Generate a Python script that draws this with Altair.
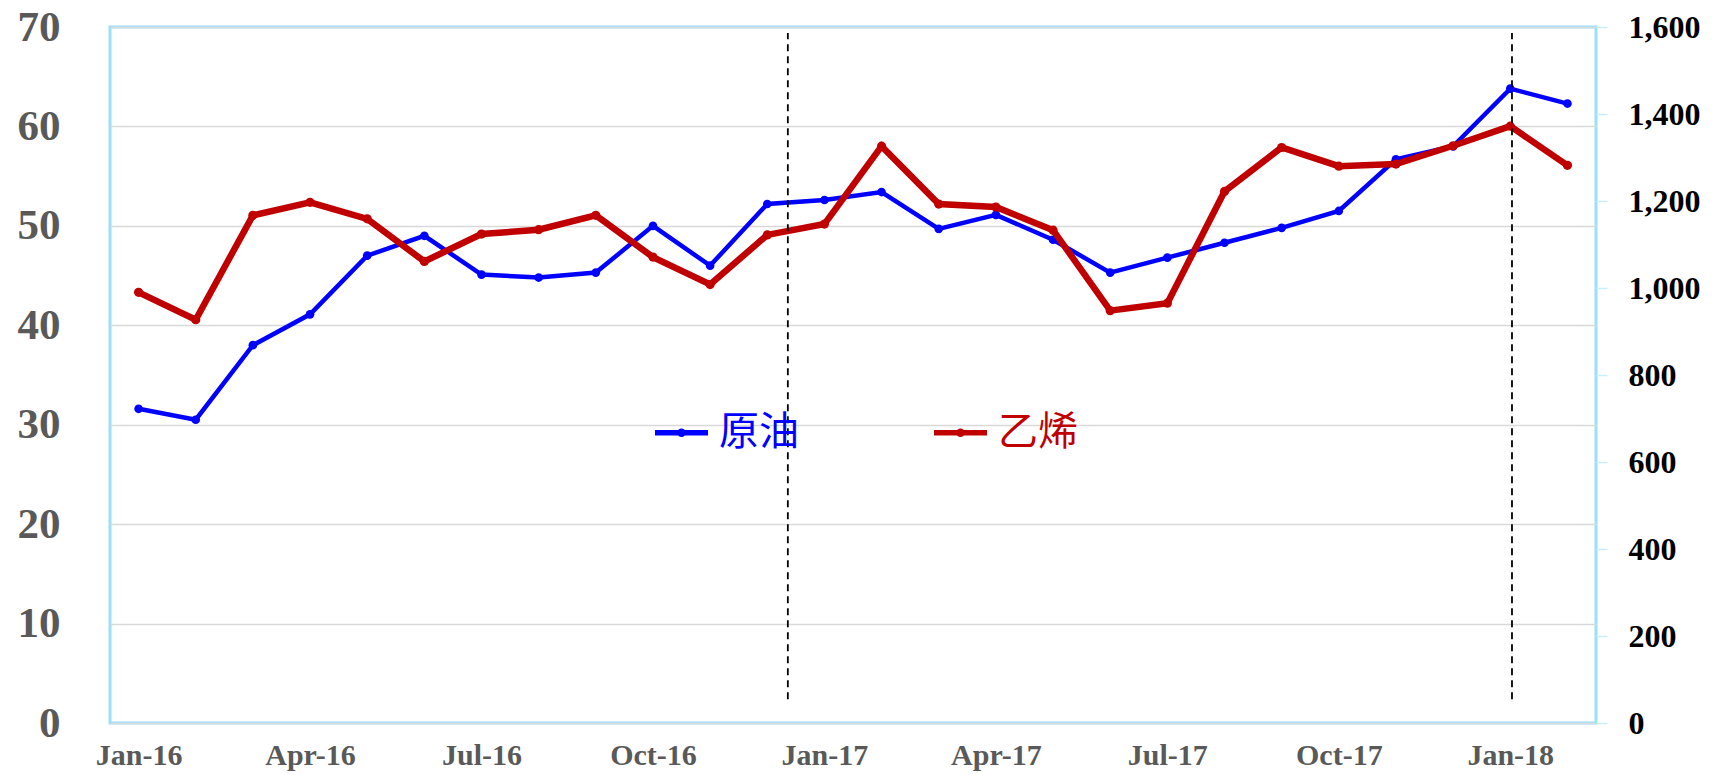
import altair as alt
import pandas as pd

months = ["Jan-16", "Feb-16", "Mar-16", "Apr-16", "May-16", "Jun-16", "Jul-16", "Aug-16",
          "Sep-16", "Oct-16", "Nov-16", "Dec-16", "Jan-17", "Feb-17", "Mar-17", "Apr-17",
          "May-17", "Jun-17", "Jul-17", "Aug-17", "Sep-17", "Oct-17", "Nov-17", "Dec-17",
          "Jan-18", "Feb-18"]
crude = [31.6, 30.5, 38.0, 41.1, 47.0, 49.0, 45.1, 44.8, 45.3, 50.0, 46.0, 52.2, 52.6,
         53.4, 49.7, 51.1, 48.6, 45.3, 46.8, 48.3, 49.8, 51.5, 56.7, 58.0, 63.8, 62.3]
ethylene = [990, 927, 1167, 1197, 1159, 1061, 1124, 1134, 1167, 1071, 1008, 1122, 1147,
            1326, 1193, 1186, 1133, 948, 965, 1222, 1323, 1280, 1285, 1327, 1372, 1282]
series_names = ["原油", "乙烯"]
series_colors = ["#0000FF", "#C00000"]
tick_labels = ["Jan-16", "Apr-16", "Jul-16", "Oct-16", "Jan-17", "Apr-17", "Jul-17", "Oct-17", "Jan-18"]
tick_idx = [months.index(m) for m in tick_labels]
marker_pos = [11.36, 24.03]
marker_y = [2.4, 69.4]

rows = []
for i, m in enumerate(months):
    rows.append({"i": i, "month": m, "series": series_names[0], "value": crude[i]})
    rows.append({"i": i, "month": m, "series": series_names[1], "value": ethylene[i]})
df = pd.DataFrame(rows)
rules_df = pd.DataFrame({"i": marker_pos, "y": [marker_y[0]] * 2, "y2": [marker_y[1]] * 2})

label_expr = "[" + ",".join("'" + m + "'" for m in months) + "][round(datum.value)]"
xscale = alt.Scale(domain=[-0.5, len(months) - 0.5], nice=False, zero=False)
xaxis = alt.Axis(values=tick_idx, labelExpr=label_expr, ticks=False, domain=False, grid=False,
                 labelFont="Liberation Serif", labelFontWeight="bold", labelFontSize=30,
                 labelColor="#595959", labelPadding=17, title=None)
x = alt.X("i:Q", scale=xscale, axis=xaxis)

color = alt.Color("series:N",
                  scale=alt.Scale(domain=series_names, range=series_colors),
                  legend=alt.Legend(orient="none", legendX=542, legendY=376, direction="horizontal",
                                    title=None, padding=0, columnPadding=124,
                                    symbolType="M-1,0L1,0M-0.06,0A0.06,0.06,0,1,1,0.06,0A0.06,0.06,0,1,1,-0.06,0",
                                    symbolSize=2809, symbolStrokeWidth=5.5,
                                    labelFont="Noto Sans CJK SC", labelFontSize=40, labelOffset=8,
                                    labelLimit=300,
                                    labelColor={"expr": "datum.value === '原油' ? '#0000FF' : '#C00000'"}))

base = alt.Chart(df)

blue = base.transform_filter(alt.datum.series == series_names[0]).mark_line(
    strokeWidth=4.5, point=alt.OverlayMarkDef(size=75, filled=True, color=series_colors[0])
).encode(
    x=x,
    y=alt.Y("value:Q", scale=alt.Scale(domain=[0, 70], nice=False),
            axis=alt.Axis(orient="left", values=list(range(0, 71, 10)), ticks=False, domain=False,
                          grid=True, gridColor="#D9D9D9", gridWidth=1.5,
                          labelFont="Liberation Serif", labelFontWeight="bold", labelFontSize=43,
                          labelColor="#595959", labelPadding=50, title=None)),
    color=color,
)

red = base.transform_filter(alt.datum.series == series_names[1]).mark_line(
    strokeWidth=6.5, point=alt.OverlayMarkDef(size=85, filled=True, color=series_colors[1])
).encode(
    x=x,
    y=alt.Y("value:Q", scale=alt.Scale(domain=[0, 1600], nice=False),
            axis=alt.Axis(orient="right", values=list(range(0, 1601, 200)), format=",.0f",
                          ticks=True, tickSize=11, tickColor="#C8EEFD", tickWidth=1.5,
                          domain=False, grid=False,
                          labelFont="Liberation Serif", labelFontWeight="bold", labelFontSize=32,
                          labelColor="#000000", labelPadding=21, labelAlign="left", title=None)),
    color=color,
)

rules = alt.Chart(rules_df).mark_rule(color="black", strokeWidth=1.8, strokeDash=[7, 5]).encode(
    x=x,
    y=alt.Y("y:Q", scale=alt.Scale(domain=[0, 70], nice=False), axis=None),
    y2="y2:Q",
)

chart = alt.layer(blue, red, rules).resolve_scale(y="independent").properties(
    width=1486, height=696,
    autosize=alt.AutoSizeParams(type="none"),
    padding={"left": 102, "top": 19, "right": 116, "bottom": 52},
    view=alt.ViewBackground(stroke="#9BE0FA", strokeWidth=3),
).configure_view(stroke="#9BE0FA", strokeWidth=3).configure(background="white")

chart.save("out.html", embed_options={"renderer": "svg", "actions": False})
